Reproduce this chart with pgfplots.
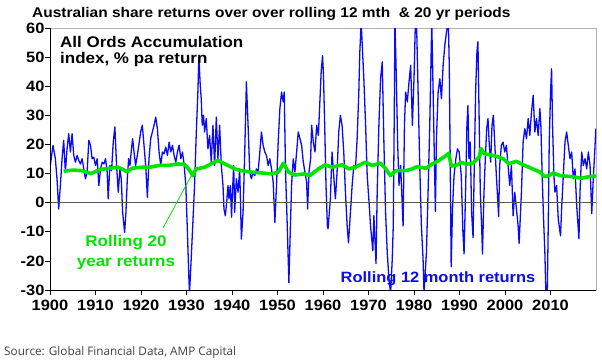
\documentclass[border=0pt]{standalone}
\usepackage{pgfplots}
\usepackage{pgfplotstable}
\pgfplotsset{compat=1.18}
\usepackage{fontspec}
\setmainfont{Liberation Sans}[FakeStretch=1.1]
\newfontfamily\srcfont{Open Sans}
\definecolor{ablue}{RGB}{10,10,245}
\definecolor{agreen}{RGB}{0,228,0}

\pgfplotstableread{
year val
1900.07 12.8
1900.66 19.7
1901.18 15.1
1901.54 8.2
1901.91 -2.2
1902.28 5.9
1902.65 15.1
1903.01 21.4
1903.38 10.5
1903.75 18.5
1904.12 23.7
1904.49 17.4
1904.85 23.7
1905.22 16.2
1905.59 13.9
1905.96 16.2
1906.32 14.5
1906.69 13.3
1907.06 15.1
1907.43 11.6
1907.79 8.2
1908.16 10.5
1908.53 21.4
1908.90 19.7
1909.26 15.1
1909.63 15.6
1910.00 12.8
1910.37 15.1
1910.74 5.9
1911.10 11.6
1911.47 13.9
1911.84 13.3
1912.21 15.1
1912.57 10.5
1912.79 1.3
1913.16 12.8
1913.53 11.0
1913.90 20.8
1914.26 26.0
1914.63 12.8
1915.00 3.6
1915.37 11.6
1915.66 8.2
1915.96 -3.3
1916.40 -10.2
1916.69 -3.3
1916.99 8.2
1917.28 15.1
1917.57 12.8
1917.87 17.9
1918.16 22.0
1918.46 17.4
1918.82 12.8
1919.19 16.2
1919.56 20.2
1919.93 24.3
1920.29 26.6
1920.66 19.7
1921.03 12.8
1921.40 1.8
1921.76 15.1
1922.13 22.0
1922.50 24.3
1922.87 26.6
1923.24 29.4
1923.60 25.4
1923.97 17.4
1924.34 12.8
1924.71 17.4
1925.07 16.8
1925.44 19.1
1925.81 16.2
1926.18 20.8
1926.54 17.4
1926.91 19.7
1927.28 16.2
1927.65 13.9
1928.01 17.4
1928.38 19.7
1928.75 15.1
1929.12 17.4
1929.49 12.8
1929.85 5.9
1930.20 -10
1930.50 -25
1930.66 -31
1931.03 -19.4
1931.40 -6.8
1931.77 5.9
1932.13 23.1
1932.50 38
1932.72 50.1
1933.02 40.3
1933.24 35.7
1933.46 26.6
1933.75 30
1933.97 24.3
1934.34 28.9
1934.71 18.5
1935.08 23.1
1935.44 13.9
1935.81 26.6
1936.18 12.8
1936.55 29.4
1936.91 15.1
1937.28 26.6
1937.65 12.8
1938.02 5.9
1938.24 -2.2
1938.53 -4.5
1938.83 0.1
1939.12 5.9
1939.34 1.3
1939.63 5.9
1939.90 -5.0
1940.10 3.6
1940.37 12.8
1940.59 -3.3
1940.96 8.2
1941.33 3.6
1941.69 11.6
1942.06 -12.5
1942.43 -3.3
1942.80 17.4
1943.16 41.5
1943.53 26.6
1943.90 10.5
1944.27 8.2
1944.64 10.5
1945.00 9.3
1945.37 11.6
1945.74 10.5
1946.11 17.4
1946.47 24.3
1946.84 19.7
1947.21 17.4
1947.58 16.2
1947.95 12.8
1948.31 15.1
1948.68 11.6
1949.05 7.0
1949.42 -6.8
1949.78 5.9
1950.15 20.8
1950.52 32.3
1950.89 38
1951.25 34.6
1951.48 38
1951.77 10.5
1952.14 -7.9
1952.50 -27.5
1952.80 -10.2
1953.09 5.9
1953.46 15.1
1953.83 10.5
1954.20 17.4
1954.56 24.3
1954.93 22
1955.30 19.7
1955.67 13.9
1956.03 10.5
1956.40 7.0
1956.62 -2.2
1956.92 10.5
1957.28 15.1
1957.50 26.6
1957.87 20.8
1958.24 17.4
1958.61 26.6
1958.98 23.1
1959.34 35.7
1959.60 45
1959.90 50.5
1960.10 44
1960.37 26.6
1960.66 5.9
1960.96 -7.9
1961.10 -9
1961.40 -3.3
1961.62 1.3
1961.99 17.4
1962.35 9.3
1962.72 1.3
1963.09 10.5
1963.46 24.3
1963.82 30
1964.19 26.6
1964.56 17.4
1964.93 3.6
1965.30 -7.9
1965.60 -13.8
1966.03 -3.3
1966.40 5.9
1966.77 12.8
1967.13 11.6
1967.50 22
1967.87 38
1968.09 51.8
1968.38 62
1968.60 55
1968.97 42.6
1969.34 27.7
1969.71 9.3
1970.07 1.3
1970.44 -7.9
1970.95 -16.5
1971.18 -4.5
1971.65 -21
1971.91 3.6
1972.28 26.6
1972.65 42.6
1973.02 48.4
1973.38 20.8
1973.75 -3.3
1974.12 -17.1
1974.49 -26.3
1974.86 -31
1975.22 -19.4
1975.44 -7.9
1975.66 30
1975.81 62
1976.10 43.8
1976.40 20.8
1976.70 5.9
1977.06 12.8
1977.60 -8
1977.90 26.6
1978.16 38
1978.53 34.6
1978.90 41.5
1979.27 47.2
1979.64 26.6
1980.00 42.6
1980.30 62
1980.60 59
1980.90 38
1981.26 12.8
1981.62 -7.9
1981.99 -19.4
1982.20 -31
1982.73 -17.1
1983.09 3.6
1983.46 26.6
1983.90 62
1984.20 38
1984.70 -3
1984.93 22
1985.30 38
1985.67 42.6
1986.03 35.7
1986.40 47.2
1986.77 54
1987.14 58.7
1987.55 62
1987.75 47.2
1987.95 15.1
1988.17 -22
1988.46 -2.2
1988.80 9.3
1989.20 15.1
1989.56 18.5
1989.93 17.4
1990.38 9.3
1990.75 -10.2
1991.00 -17.6
1991.33 3.6
1991.63 26.6
1991.85 33.4
1992.07 15.1
1992.36 20.8
1992.66 -3.3
1992.98 -12
1993.25 12.8
1993.54 38
1993.83 51.8
1994.05 55.3
1994.28 32.3
1994.57 3.6
1994.86 -7.9
1995.05 -17.6
1995.38 3.6
1995.67 15.1
1995.97 25.4
1996.26 28.9
1996.55 19.7
1996.85 13.9
1997.14 26.6
1997.44 30
1997.73 20.8
1998.10 9.3
1998.60 -4.8
1998.83 12.8
1999.20 19.7
1999.57 20.8
1999.94 17.4
2000.30 19.7
2000.67 12.8
2001.04 5.9
2001.41 12.8
2001.78 -4.5
2002.14 3.6
2002.51 -2.2
2002.88 -7.9
2003.10 -14
2003.61 3.6
2003.98 20.8
2004.35 25.4
2004.72 22
2005.09 28.9
2005.45 23.1
2005.82 31.1
2006.19 36.9
2006.56 24.3
2006.92 28.9
2007.29 23.1
2007.66 32.3
2007.88 26.6
2008.17 9.3
2008.47 -5.6
2008.76 -17.1
2008.98 -31
2009.28 -32
2009.50 -7.9
2009.72 20.8
2010.01 38
2010.23 46
2010.45 26.6
2010.75 9.3
2010.97 3.6
2011.34 5.9
2011.70 -5.6
2012.20 -11.4
2012.44 -2.2
2012.81 9.3
2013.18 20.8
2013.54 24.3
2013.91 19.7
2014.28 15.1
2014.65 17.4
2015.01 8.2
2015.38 11.6
2015.75 -1.0
2016.25 -12.4
2016.48 3.6
2016.85 17.4
2017.22 12.8
2017.59 15.1
2017.95 11.6
2018.32 17.4
2018.69 12.8
2019.06 -3.8
2019.43 9.3
2019.72 17.4
2019.95 25.4
}\monthly

\pgfplotstableread{
year val
1903.0 10.8
1905.0 11.2
1907.0 11.0
1909.0 10.0
1911.0 11.4
1913.0 11.8
1915.0 12.2
1916.5 11.0
1917.0 10.6
1918.0 11.8
1920.0 12.2
1922.0 12.2
1924.0 12.8
1926.0 12.8
1928.0 13.3
1929.5 13.2
1930.5 11.5
1931.4 9.3
1932.1 11.6
1934.0 12.2
1936.9 14.5
1939.1 12.8
1940.6 11.6
1942.0 11.0
1944.3 10.5
1946.5 10.2
1948.7 9.9
1950.2 10.5
1951.3 13.6
1952.4 10.5
1953.8 9.5
1956.0 9.9
1957.1 9.3
1959.0 11.6
1960.45 13.0
1962.0 12.2
1964.2 13.0
1965.7 11.6
1967.1 12.2
1969.3 13.9
1970.8 12.8
1972.6 13.6
1973.7 11.8
1974.8 9.3
1976.0 11.0
1978.2 11.0
1979.6 11.6
1980.7 12.4
1982.6 11.8
1984.0 13.3
1985.5 14.5
1987.3 16.5
1987.6 17.0
1988.2 12.6
1989.2 12.8
1990.5 13.8
1991.5 13.2
1992.9 13.5
1994.4 15.8
1994.7 18.6
1995.5 16.8
1997.5 16.2
1999.6 15.1
2000.8 13.4
2002.5 14.2
2004.0 13.0
2005.5 12.0
2007.7 10.5
2008.6 9.0
2009.5 9.2
2010.6 10.2
2012.1 9.3
2015.0 8.9
2016.7 8.4
2018.0 8.8
2019.6 9.2
2020.0 9.0
}\twenty

\begin{document}
\begin{tikzpicture}[x=1bp,y=1bp]
\useasboundingbox (-50,-73) rectangle (552,290);
\begin{axis}[
  at={(0,0)}, anchor=south west,
  scale only axis, width=546bp, height=262bp,
  xmin=1900, xmax=2020, ymin=-30, ymax=60,
  xtick={1900,1910,...,2010},
  xticklabels={1900,1910,1920,1930,1940,1950,1960,1970,1980,1990,2000,2010},
  ytick={-30,-20,...,60},
  yticklabels={-30,-20,-10,0,10,20,30,40,50,60},
  tick pos=left, tick align=outside, major tick length=5bp,
  tick style={black, line width=0.7pt},
  axis line style={gray!60, line width=0.7pt},
  ticklabel style={font=\bfseries\fontsize{15}{15}\selectfont},
  x tick label style={yshift=-2bp},
  y tick label style={xshift=3bp},
]
\addplot[ablue, line width=1.3bp, line join=round] table[x=year,y=val]{\monthly};
\addplot[agreen, line width=3.6bp, line join=round] table[x=year,y=val]{\twenty};
\draw[gray!70!black, line width=0.7pt] (axis cs:1900,0) -- (axis cs:2020,0);
\draw[black, line width=0.8pt] (rel axis cs:0,1) -- (rel axis cs:0,0) -- (rel axis cs:1,0);
\end{axis}
\draw[agreen, line width=0.8pt] (113,62) -- (146,123);
\node[anchor=base west, inner sep=0, font=\bfseries\fontsize{14.1}{14.1}\selectfont] at (-18,273) {Australian share returns over over rolling 12 mth\ \ \& 20 yr periods};
\node[anchor=west, inner sep=0, font=\bfseries\fontsize{15.5}{15.5}\selectfont] at (10,248) {All Ords Accumulation};
\node[anchor=west, inner sep=0, font=\bfseries\fontsize{15.5}{15.5}\selectfont] at (10,230) {index, \% pa return};
\node[inner sep=0, text=agreen, font=\bfseries\fontsize{15.5}{15.5}\selectfont] at (76,47) {Rolling 20};
\node[inner sep=0, text=agreen, font=\bfseries\fontsize{15.5}{15.5}\selectfont] at (76,27) {year returns};
\node[inner sep=0, text=ablue, font=\bfseries\fontsize{15}{15}\selectfont] at (388,11) {Rolling 12 month returns};
\node[anchor=west, inner sep=0, text=black!75, font=\srcfont\fontsize{11.8}{11.8}\selectfont] at (-46,-62) {Source: Global Financial Data, AMP Capital};
\end{tikzpicture}
\end{document}
